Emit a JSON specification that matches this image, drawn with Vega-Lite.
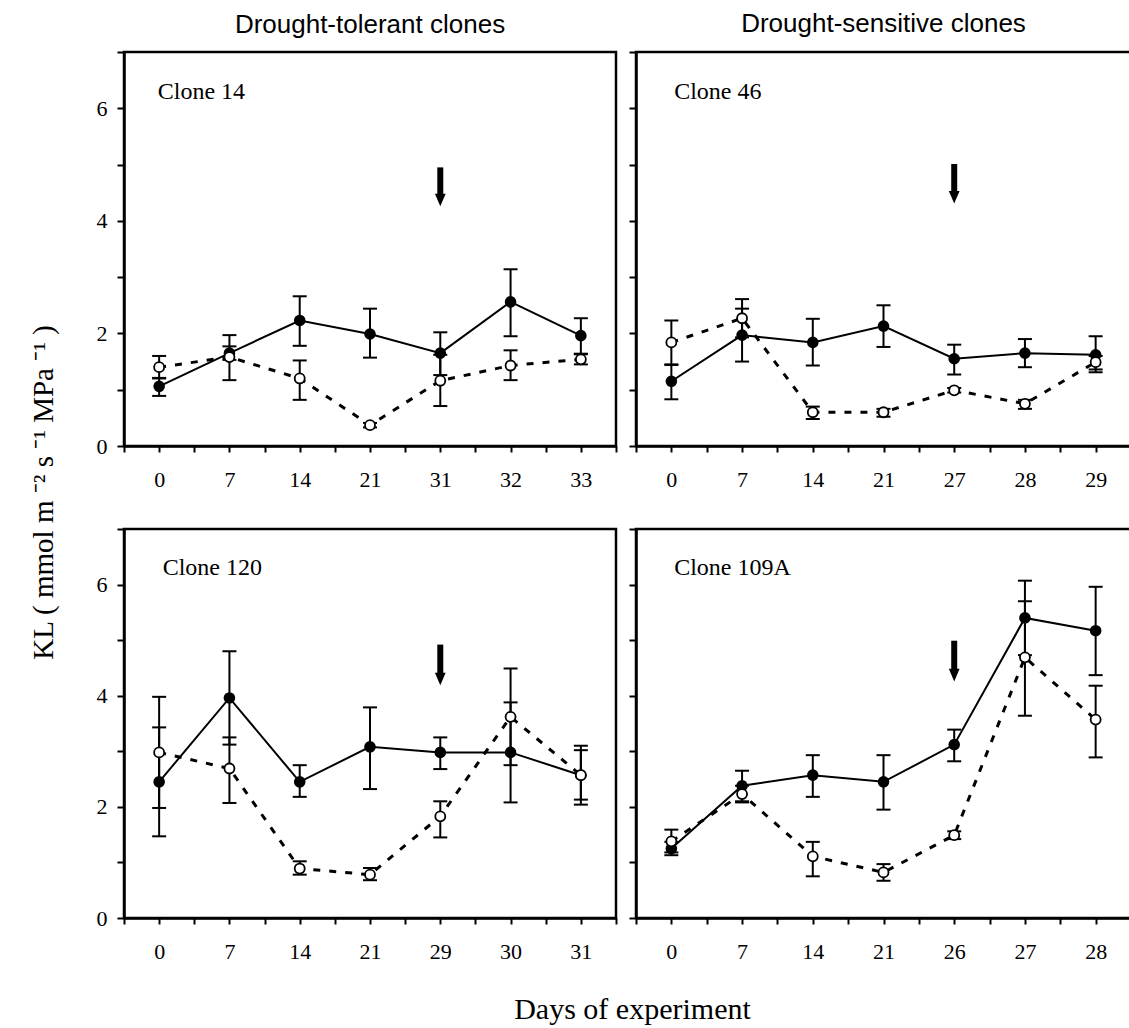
{
  "$schema": "https://vega.github.io/schema/vega-lite/v6.json",
  "padding": {"left": 27, "top": 9, "right": 0, "bottom": 4},
  "background": "white",
  "bounds": "flush",
  "spacing": {"row": 83, "column": 20},
  "columns": 2,
  "config": {
    "view": {"stroke": "black", "strokeWidth": 2.5},
    "font": "Liberation Serif",
    "axis": {"grid": false, "domainColor": "black", "domainWidth": 2.5, "tickColor": "black", "tickWidth": 2, "labelColor": "black", "labelFont": "Liberation Serif", "labelFontSize": 22, "titleColor": "black", "titleFont": "Liberation Serif", "titleFontWeight": "normal", "labelFlush": false, "labelOverlap": false},
    "title": {"font": "Liberation Sans", "fontSize": 26, "fontWeight": "normal", "color": "black"}
  },
  "datasets": {
    "kl": [
      {"clone": "Clone 14", "i": 0, "day": 0, "treatment": "control", "v": 1.06, "lo": 0.89, "hi": 1.21},
      {"clone": "Clone 14", "i": 1, "day": 7, "treatment": "control", "v": 1.65, "lo": 1.53, "hi": 1.77},
      {"clone": "Clone 14", "i": 2, "day": 14, "treatment": "control", "v": 2.23, "lo": 1.78, "hi": 2.66},
      {"clone": "Clone 14", "i": 3, "day": 21, "treatment": "control", "v": 1.99, "lo": 1.57, "hi": 2.44},
      {"clone": "Clone 14", "i": 4, "day": 31, "treatment": "control", "v": 1.65, "lo": 1.26, "hi": 2.02},
      {"clone": "Clone 14", "i": 5, "day": 32, "treatment": "control", "v": 2.56, "lo": 1.95, "hi": 3.14},
      {"clone": "Clone 14", "i": 6, "day": 33, "treatment": "control", "v": 1.96, "lo": 1.64, "hi": 2.27},
      {"clone": "Clone 14", "i": 0, "day": 0, "treatment": "drought", "v": 1.40, "lo": 1.20, "hi": 1.60},
      {"clone": "Clone 14", "i": 1, "day": 7, "treatment": "drought", "v": 1.58, "lo": 1.17, "hi": 1.97},
      {"clone": "Clone 14", "i": 2, "day": 14, "treatment": "drought", "v": 1.20, "lo": 0.82, "hi": 1.52},
      {"clone": "Clone 14", "i": 3, "day": 21, "treatment": "drought", "v": 0.37, "lo": 0.33, "hi": 0.41},
      {"clone": "Clone 14", "i": 4, "day": 31, "treatment": "drought", "v": 1.16, "lo": 0.71, "hi": 1.62},
      {"clone": "Clone 14", "i": 5, "day": 32, "treatment": "drought", "v": 1.43, "lo": 1.17, "hi": 1.70},
      {"clone": "Clone 14", "i": 6, "day": 33, "treatment": "drought", "v": 1.54, "lo": 1.45, "hi": 1.63},
      {"clone": "Clone 46", "i": 0, "day": 0, "treatment": "control", "v": 1.15, "lo": 0.83, "hi": 1.44},
      {"clone": "Clone 46", "i": 1, "day": 7, "treatment": "control", "v": 1.97, "lo": 1.50, "hi": 2.44},
      {"clone": "Clone 46", "i": 2, "day": 14, "treatment": "control", "v": 1.84, "lo": 1.43, "hi": 2.26},
      {"clone": "Clone 46", "i": 3, "day": 21, "treatment": "control", "v": 2.13, "lo": 1.76, "hi": 2.50},
      {"clone": "Clone 46", "i": 4, "day": 27, "treatment": "control", "v": 1.55, "lo": 1.27, "hi": 1.80},
      {"clone": "Clone 46", "i": 5, "day": 28, "treatment": "control", "v": 1.65, "lo": 1.40, "hi": 1.90},
      {"clone": "Clone 46", "i": 6, "day": 29, "treatment": "control", "v": 1.62, "lo": 1.31, "hi": 1.95},
      {"clone": "Clone 46", "i": 0, "day": 0, "treatment": "drought", "v": 1.84, "lo": 1.45, "hi": 2.23},
      {"clone": "Clone 46", "i": 1, "day": 7, "treatment": "drought", "v": 2.27, "lo": 1.93, "hi": 2.61},
      {"clone": "Clone 46", "i": 2, "day": 14, "treatment": "drought", "v": 0.60, "lo": 0.48, "hi": 0.70},
      {"clone": "Clone 46", "i": 3, "day": 21, "treatment": "drought", "v": 0.60, "lo": 0.52, "hi": 0.66},
      {"clone": "Clone 46", "i": 4, "day": 27, "treatment": "drought", "v": 0.99, "lo": 0.95, "hi": 1.03},
      {"clone": "Clone 46", "i": 5, "day": 28, "treatment": "drought", "v": 0.75, "lo": 0.66, "hi": 0.82},
      {"clone": "Clone 46", "i": 6, "day": 29, "treatment": "drought", "v": 1.49, "lo": 1.36, "hi": 1.60},
      {"clone": "Clone 120", "i": 0, "day": 0, "treatment": "control", "v": 2.45, "lo": 1.47, "hi": 3.43},
      {"clone": "Clone 120", "i": 1, "day": 7, "treatment": "control", "v": 3.96, "lo": 3.12, "hi": 4.80},
      {"clone": "Clone 120", "i": 2, "day": 14, "treatment": "control", "v": 2.45, "lo": 2.18, "hi": 2.75},
      {"clone": "Clone 120", "i": 3, "day": 21, "treatment": "control", "v": 3.08, "lo": 2.32, "hi": 3.79},
      {"clone": "Clone 120", "i": 4, "day": 29, "treatment": "control", "v": 2.98, "lo": 2.68, "hi": 3.25},
      {"clone": "Clone 120", "i": 5, "day": 30, "treatment": "control", "v": 2.98, "lo": 2.08, "hi": 3.88},
      {"clone": "Clone 120", "i": 6, "day": 31, "treatment": "control", "v": 2.57, "lo": 2.04, "hi": 3.10},
      {"clone": "Clone 120", "i": 0, "day": 0, "treatment": "drought", "v": 2.98, "lo": 1.98, "hi": 3.98},
      {"clone": "Clone 120", "i": 1, "day": 7, "treatment": "drought", "v": 2.69, "lo": 2.07, "hi": 3.25},
      {"clone": "Clone 120", "i": 2, "day": 14, "treatment": "drought", "v": 0.89, "lo": 0.78, "hi": 1.02},
      {"clone": "Clone 120", "i": 3, "day": 21, "treatment": "drought", "v": 0.78, "lo": 0.68, "hi": 0.90},
      {"clone": "Clone 120", "i": 4, "day": 29, "treatment": "drought", "v": 1.83, "lo": 1.45, "hi": 2.10},
      {"clone": "Clone 120", "i": 5, "day": 30, "treatment": "drought", "v": 3.62, "lo": 2.75, "hi": 4.49},
      {"clone": "Clone 120", "i": 6, "day": 31, "treatment": "drought", "v": 2.57, "lo": 2.13, "hi": 3.02},
      {"clone": "Clone 109A", "i": 0, "day": 0, "treatment": "control", "v": 1.25, "lo": 1.13, "hi": 1.37},
      {"clone": "Clone 109A", "i": 1, "day": 7, "treatment": "control", "v": 2.38, "lo": 2.10, "hi": 2.65},
      {"clone": "Clone 109A", "i": 2, "day": 14, "treatment": "control", "v": 2.57, "lo": 2.18, "hi": 2.93},
      {"clone": "Clone 109A", "i": 3, "day": 21, "treatment": "control", "v": 2.45, "lo": 1.95, "hi": 2.93},
      {"clone": "Clone 109A", "i": 4, "day": 26, "treatment": "control", "v": 3.12, "lo": 2.82, "hi": 3.39},
      {"clone": "Clone 109A", "i": 5, "day": 27, "treatment": "control", "v": 5.40, "lo": 4.73, "hi": 6.07},
      {"clone": "Clone 109A", "i": 6, "day": 28, "treatment": "control", "v": 5.17, "lo": 4.37, "hi": 5.96},
      {"clone": "Clone 109A", "i": 0, "day": 0, "treatment": "drought", "v": 1.38, "lo": 1.18, "hi": 1.59},
      {"clone": "Clone 109A", "i": 1, "day": 7, "treatment": "drought", "v": 2.23, "lo": 2.08, "hi": 2.38},
      {"clone": "Clone 109A", "i": 2, "day": 14, "treatment": "drought", "v": 1.11, "lo": 0.75, "hi": 1.37},
      {"clone": "Clone 109A", "i": 3, "day": 21, "treatment": "drought", "v": 0.82, "lo": 0.67, "hi": 0.97},
      {"clone": "Clone 109A", "i": 4, "day": 26, "treatment": "drought", "v": 1.49, "lo": 1.42, "hi": 1.56},
      {"clone": "Clone 109A", "i": 5, "day": 27, "treatment": "drought", "v": 4.69, "lo": 3.64, "hi": 5.70},
      {"clone": "Clone 109A", "i": 6, "day": 28, "treatment": "drought", "v": 3.57, "lo": 2.89, "hi": 4.18}
    ],
    "marks": [
      {"clone": "Clone 14", "i": 4, "from": 4.95, "to": 4.45, "head": 4.37, "lx": -0.02, "ly": 6.17},
      {"clone": "Clone 46", "i": 4, "from": 5.01, "to": 4.45, "head": 4.42, "lx": 0.04, "ly": 6.17},
      {"clone": "Clone 120", "i": 4, "from": 4.92, "to": 4.35, "head": 4.30, "lx": 0.05, "ly": 6.17},
      {"clone": "Clone 109A", "i": 4, "from": 4.99, "to": 4.42, "head": 4.37, "lx": 0.04, "ly": 6.17}
    ]
  },
  "concat": [
    {
      "width": 492, "height": 394,
      "title": {"text": "Drought-tolerant clones", "anchor": "middle", "frame": "group", "offset": 3},
      "data": {"name": "kl"},
      "transform": [{"filter": "datum.clone === 'Clone 14'"}],
      "encoding": {
        "x": {"field": "i", "type": "quantitative", "scale": {"domain": [-0.5, 6.5], "nice": false, "zero": false},
          "axis": {"values": [-0.5, 0, 0.5, 1, 1.5, 2, 2.5, 3, 3.5, 4, 4.5, 5, 5.5, 6, 6.5], "labelExpr": "datum.value % 1 === 0 ? ['0','7','14','21','31','32','33'][datum.value] : ''", "tickSize": 6, "labelPadding": 17, "title": null}},
        "y": {"field": "v", "type": "quantitative", "scale": {"domain": [0, 7], "nice": false, "zero": false},
          "axis": {"values": [0, 1, 2, 3, 4, 5, 6, 7], "labelExpr": "datum.value % 2 === 0 ? datum.label : ''", "tickSize": 7, "labelPadding": 10,
            "title": "KL ( mmol m ⁻² s ⁻¹ MPa ⁻¹ )", "titleFontSize": 29, "titleAngle": 270, "titleX": -72, "titleY": 440, "titleAlign": "center", "titleBaseline": "alphabetic"}}
      },
      "layer": [
        {"mark": {"type": "rule", "color": "black", "strokeWidth": 2}, "encoding": {"y": {"field": "lo", "type": "quantitative"}, "y2": {"field": "hi"}}},
        {"mark": {"type": "tick", "orient": "horizontal", "color": "black", "size": 14, "thickness": 2, "opacity": 1}, "encoding": {"y": {"field": "lo", "type": "quantitative"}}},
        {"mark": {"type": "tick", "orient": "horizontal", "color": "black", "size": 14, "thickness": 2, "opacity": 1}, "encoding": {"y": {"field": "hi", "type": "quantitative"}}},
        {"transform": [{"filter": "datum.treatment === 'control'"}], "mark": {"type": "line", "color": "black", "strokeWidth": 2}},
        {"transform": [{"filter": "datum.treatment === 'drought'"}], "mark": {"type": "line", "color": "black", "strokeWidth": 3, "strokeDash": [7, 9]}},
        {"transform": [{"filter": "datum.treatment === 'control'"}], "mark": {"type": "point", "shape": "circle", "filled": true, "color": "black", "size": 135, "opacity": 1}},
        {"transform": [{"filter": "datum.treatment === 'drought'"}], "mark": {"type": "point", "shape": "circle", "filled": true, "fill": "white", "stroke": "black", "strokeWidth": 1.8, "size": 100, "opacity": 1}},
        {"data": {"name": "marks"}, "transform": [{"filter": "datum.clone === 'Clone 14'"}], "mark": {"type": "rule", "color": "black", "strokeWidth": 6}, "encoding": {"y": {"field": "from", "type": "quantitative"}, "y2": {"field": "to"}}},
        {"data": {"name": "marks"}, "transform": [{"filter": "datum.clone === 'Clone 14'"}], "mark": {"type": "point", "shape": "M-0.85,-1L0.85,-1L0,1Z", "filled": true, "color": "black", "size": 160, "opacity": 1}, "encoding": {"y": {"field": "head", "type": "quantitative"}}},
        {"data": {"name": "marks"}, "transform": [{"filter": "datum.clone === 'Clone 14'"}], "mark": {"type": "text", "align": "left", "baseline": "alphabetic", "font": "Liberation Serif", "fontSize": 24, "color": "black"}, "encoding": {"x": {"field": "lx", "type": "quantitative"}, "y": {"field": "ly", "type": "quantitative"}, "text": {"field": "clone"}}}
      ]
    },
    {
      "width": 495, "height": 394,
      "title": {"text": "Drought-sensitive clones", "anchor": "middle", "frame": "group", "offset": 14},
      "data": {"name": "kl"},
      "transform": [{"filter": "datum.clone === 'Clone 46'"}],
      "encoding": {
        "x": {"field": "i", "type": "quantitative", "scale": {"domain": [-0.5, 6.5], "nice": false, "zero": false},
          "axis": {"values": [-0.5, 0, 0.5, 1, 1.5, 2, 2.5, 3, 3.5, 4, 4.5, 5, 5.5, 6, 6.5], "labelExpr": "datum.value % 1 === 0 ? ['0','7','14','21','27','28','29'][datum.value] : ''", "tickSize": 6, "labelPadding": 17, "title": null}},
        "y": {"field": "v", "type": "quantitative", "scale": {"domain": [0, 7], "nice": false, "zero": false},
          "axis": {"values": [0, 1, 2, 3, 4, 5, 6, 7], "labels": false, "tickSize": 7, "title": null}}
      },
      "layer": [
        {"mark": {"type": "rule", "color": "black", "strokeWidth": 2}, "encoding": {"y": {"field": "lo", "type": "quantitative"}, "y2": {"field": "hi"}}},
        {"mark": {"type": "tick", "orient": "horizontal", "color": "black", "size": 14, "thickness": 2, "opacity": 1}, "encoding": {"y": {"field": "lo", "type": "quantitative"}}},
        {"mark": {"type": "tick", "orient": "horizontal", "color": "black", "size": 14, "thickness": 2, "opacity": 1}, "encoding": {"y": {"field": "hi", "type": "quantitative"}}},
        {"transform": [{"filter": "datum.treatment === 'control'"}], "mark": {"type": "line", "color": "black", "strokeWidth": 2}},
        {"transform": [{"filter": "datum.treatment === 'drought'"}], "mark": {"type": "line", "color": "black", "strokeWidth": 3, "strokeDash": [7, 9]}},
        {"transform": [{"filter": "datum.treatment === 'control'"}], "mark": {"type": "point", "shape": "circle", "filled": true, "color": "black", "size": 135, "opacity": 1}},
        {"transform": [{"filter": "datum.treatment === 'drought'"}], "mark": {"type": "point", "shape": "circle", "filled": true, "fill": "white", "stroke": "black", "strokeWidth": 1.8, "size": 100, "opacity": 1}},
        {"data": {"name": "marks"}, "transform": [{"filter": "datum.clone === 'Clone 46'"}], "mark": {"type": "rule", "color": "black", "strokeWidth": 6}, "encoding": {"y": {"field": "from", "type": "quantitative"}, "y2": {"field": "to"}}},
        {"data": {"name": "marks"}, "transform": [{"filter": "datum.clone === 'Clone 46'"}], "mark": {"type": "point", "shape": "M-0.85,-1L0.85,-1L0,1Z", "filled": true, "color": "black", "size": 160, "opacity": 1}, "encoding": {"y": {"field": "head", "type": "quantitative"}}},
        {"data": {"name": "marks"}, "transform": [{"filter": "datum.clone === 'Clone 46'"}], "mark": {"type": "text", "align": "left", "baseline": "alphabetic", "font": "Liberation Serif", "fontSize": 24, "color": "black"}, "encoding": {"x": {"field": "lx", "type": "quantitative"}, "y": {"field": "ly", "type": "quantitative"}, "text": {"field": "clone"}}}
      ]
    },
    {
      "width": 492, "height": 389,
      "data": {"name": "kl"},
      "transform": [{"filter": "datum.clone === 'Clone 120'"}],
      "encoding": {
        "x": {"field": "i", "type": "quantitative", "scale": {"domain": [-0.5, 6.5], "nice": false, "zero": false},
          "axis": {"values": [-0.5, 0, 0.5, 1, 1.5, 2, 2.5, 3, 3.5, 4, 4.5, 5, 5.5, 6, 6.5], "labelExpr": "datum.value % 1 === 0 ? ['0','7','14','21','29','30','31'][datum.value] : ''", "tickSize": 6, "labelPadding": 17,
            "title": "Days of experiment", "titleFontSize": 30, "titleX": 508, "titleY": 100, "titleAlign": "center", "titleBaseline": "alphabetic"}},
        "y": {"field": "v", "type": "quantitative", "scale": {"domain": [0, 7], "nice": false, "zero": false},
          "axis": {"values": [0, 1, 2, 3, 4, 5, 6, 7], "labelExpr": "datum.value % 2 === 0 ? datum.label : ''", "tickSize": 7, "labelPadding": 10, "title": null}}
      },
      "layer": [
        {"mark": {"type": "rule", "color": "black", "strokeWidth": 2}, "encoding": {"y": {"field": "lo", "type": "quantitative"}, "y2": {"field": "hi"}}},
        {"mark": {"type": "tick", "orient": "horizontal", "color": "black", "size": 14, "thickness": 2, "opacity": 1}, "encoding": {"y": {"field": "lo", "type": "quantitative"}}},
        {"mark": {"type": "tick", "orient": "horizontal", "color": "black", "size": 14, "thickness": 2, "opacity": 1}, "encoding": {"y": {"field": "hi", "type": "quantitative"}}},
        {"transform": [{"filter": "datum.treatment === 'control'"}], "mark": {"type": "line", "color": "black", "strokeWidth": 2}},
        {"transform": [{"filter": "datum.treatment === 'drought'"}], "mark": {"type": "line", "color": "black", "strokeWidth": 3, "strokeDash": [7, 9]}},
        {"transform": [{"filter": "datum.treatment === 'control'"}], "mark": {"type": "point", "shape": "circle", "filled": true, "color": "black", "size": 135, "opacity": 1}},
        {"transform": [{"filter": "datum.treatment === 'drought'"}], "mark": {"type": "point", "shape": "circle", "filled": true, "fill": "white", "stroke": "black", "strokeWidth": 1.8, "size": 100, "opacity": 1}},
        {"data": {"name": "marks"}, "transform": [{"filter": "datum.clone === 'Clone 120'"}], "mark": {"type": "rule", "color": "black", "strokeWidth": 6}, "encoding": {"y": {"field": "from", "type": "quantitative"}, "y2": {"field": "to"}}},
        {"data": {"name": "marks"}, "transform": [{"filter": "datum.clone === 'Clone 120'"}], "mark": {"type": "point", "shape": "M-0.85,-1L0.85,-1L0,1Z", "filled": true, "color": "black", "size": 160, "opacity": 1}, "encoding": {"y": {"field": "head", "type": "quantitative"}}},
        {"data": {"name": "marks"}, "transform": [{"filter": "datum.clone === 'Clone 120'"}], "mark": {"type": "text", "align": "left", "baseline": "alphabetic", "font": "Liberation Serif", "fontSize": 24, "color": "black"}, "encoding": {"x": {"field": "lx", "type": "quantitative"}, "y": {"field": "ly", "type": "quantitative"}, "text": {"field": "clone"}}}
      ]
    },
    {
      "width": 495, "height": 389,
      "data": {"name": "kl"},
      "transform": [{"filter": "datum.clone === 'Clone 109A'"}],
      "encoding": {
        "x": {"field": "i", "type": "quantitative", "scale": {"domain": [-0.5, 6.5], "nice": false, "zero": false},
          "axis": {"values": [-0.5, 0, 0.5, 1, 1.5, 2, 2.5, 3, 3.5, 4, 4.5, 5, 5.5, 6, 6.5], "labelExpr": "datum.value % 1 === 0 ? ['0','7','14','21','26','27','28'][datum.value] : ''", "tickSize": 6, "labelPadding": 17, "title": null}},
        "y": {"field": "v", "type": "quantitative", "scale": {"domain": [0, 7], "nice": false, "zero": false},
          "axis": {"values": [0, 1, 2, 3, 4, 5, 6, 7], "labels": false, "tickSize": 7, "title": null}}
      },
      "layer": [
        {"mark": {"type": "rule", "color": "black", "strokeWidth": 2}, "encoding": {"y": {"field": "lo", "type": "quantitative"}, "y2": {"field": "hi"}}},
        {"mark": {"type": "tick", "orient": "horizontal", "color": "black", "size": 14, "thickness": 2, "opacity": 1}, "encoding": {"y": {"field": "lo", "type": "quantitative"}}},
        {"mark": {"type": "tick", "orient": "horizontal", "color": "black", "size": 14, "thickness": 2, "opacity": 1}, "encoding": {"y": {"field": "hi", "type": "quantitative"}}},
        {"transform": [{"filter": "datum.treatment === 'control'"}], "mark": {"type": "line", "color": "black", "strokeWidth": 2}},
        {"transform": [{"filter": "datum.treatment === 'drought'"}], "mark": {"type": "line", "color": "black", "strokeWidth": 3, "strokeDash": [7, 9]}},
        {"transform": [{"filter": "datum.treatment === 'control'"}], "mark": {"type": "point", "shape": "circle", "filled": true, "color": "black", "size": 135, "opacity": 1}},
        {"transform": [{"filter": "datum.treatment === 'drought'"}], "mark": {"type": "point", "shape": "circle", "filled": true, "fill": "white", "stroke": "black", "strokeWidth": 1.8, "size": 100, "opacity": 1}},
        {"data": {"name": "marks"}, "transform": [{"filter": "datum.clone === 'Clone 109A'"}], "mark": {"type": "rule", "color": "black", "strokeWidth": 6}, "encoding": {"y": {"field": "from", "type": "quantitative"}, "y2": {"field": "to"}}},
        {"data": {"name": "marks"}, "transform": [{"filter": "datum.clone === 'Clone 109A'"}], "mark": {"type": "point", "shape": "M-0.85,-1L0.85,-1L0,1Z", "filled": true, "color": "black", "size": 160, "opacity": 1}, "encoding": {"y": {"field": "head", "type": "quantitative"}}},
        {"data": {"name": "marks"}, "transform": [{"filter": "datum.clone === 'Clone 109A'"}], "mark": {"type": "text", "align": "left", "baseline": "alphabetic", "font": "Liberation Serif", "fontSize": 24, "color": "black"}, "encoding": {"x": {"field": "lx", "type": "quantitative"}, "y": {"field": "ly", "type": "quantitative"}, "text": {"field": "clone"}}}
      ]
    }
  ]
}
